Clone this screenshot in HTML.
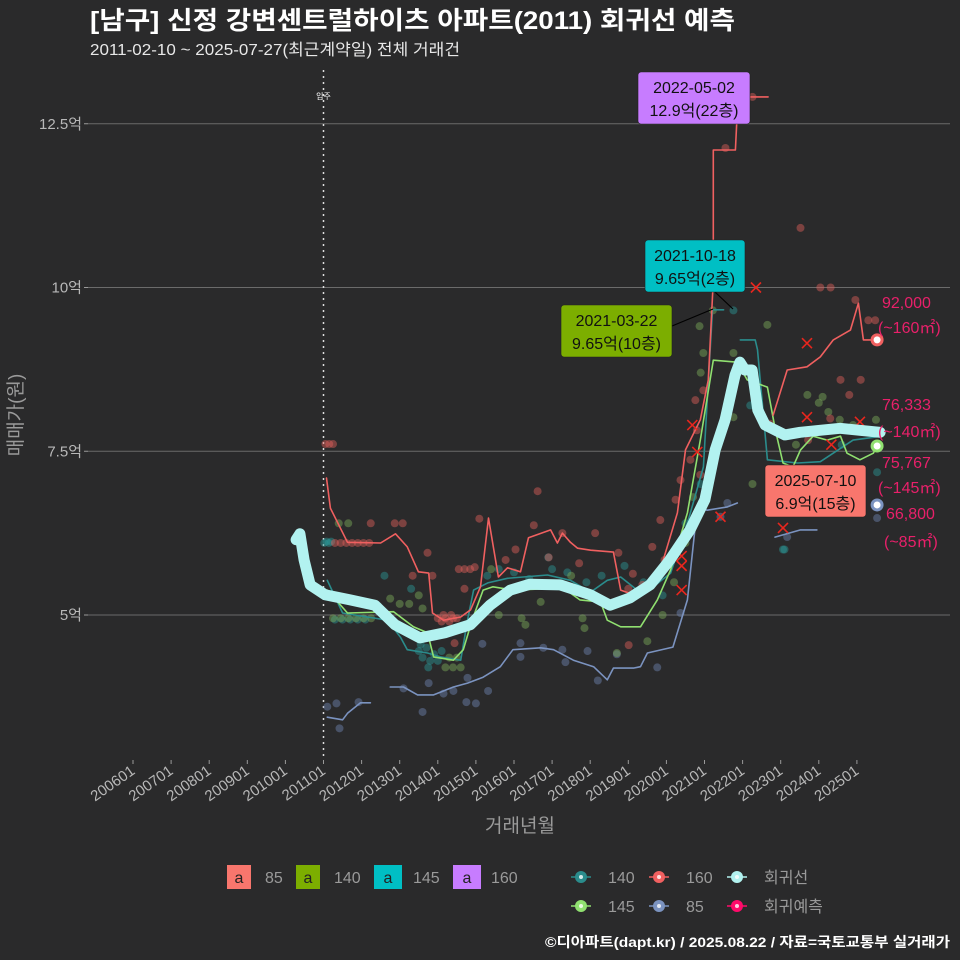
<!DOCTYPE html>
<html><head><meta charset="utf-8">
<style>
html,body{margin:0;padding:0;background:#2a2a2b;}
svg{display:block;font-family:"Liberation Sans","Noto Sans CJK KR",sans-serif;}
</style></head>
<body>
<svg id="chart" width="960" height="960" viewBox="0 0 960 960">
<rect x="0" y="0" width="960" height="960" fill="#2a2a2b"/>
<text x="90" y="29" fill="#ffffff" font-size="25" font-weight="bold" textLength="645" lengthAdjust="spacingAndGlyphs">[남구] 신정 강변센트럴하이츠 아파트(2011) 회귀선 예측</text>
<text x="90" y="55" fill="#e8e8e8" font-size="16" textLength="370" lengthAdjust="spacingAndGlyphs">2011-02-10 ~ 2025-07-27(최근계약일) 전체 거래건</text>
<g id="grid"></g>
<g id="yaxis"></g>
<g id="xaxis"></g>
<g id="marks"></g>
<g id="annot"></g>
<text x="22" y="415" fill="#9a9a9a" font-size="19" text-anchor="middle" transform="rotate(-90 22 415)">매매가(원)</text>
<text x="520" y="832" fill="#9a9a9a" font-size="19" text-anchor="middle">거래년월</text>
<g font-size="16" fill="#9a9a9a">
  <rect x="227" y="865" width="24" height="24" fill="#f8766d"/><text x="239" y="883" text-anchor="middle" fill="#222">a</text><text x="265" y="883" fill="#9a9a9a">85</text>
  <rect x="296" y="865" width="24" height="24" fill="#7cae00"/><text x="308" y="883" text-anchor="middle" fill="#222">a</text><text x="334" y="883" fill="#9a9a9a">140</text>
  <rect x="374" y="865" width="28" height="24" fill="#00bfc4"/><text x="388" y="883" text-anchor="middle" fill="#222">a</text><text x="413" y="883" fill="#9a9a9a">145</text>
  <rect x="453" y="865" width="28" height="24" fill="#c77cff"/><text x="467" y="883" text-anchor="middle" fill="#222">a</text><text x="491" y="883" fill="#9a9a9a">160</text>
</g>
<g id="legend2" font-size="16"></g>
<text x="950" y="947" fill="#ffffff" font-size="14" font-weight="bold" text-anchor="end" textLength="405" lengthAdjust="spacingAndGlyphs">©디아파트(dapt.kr) / 2025.08.22 / 자료=국토교통부 실거래가</text>
</svg>
<script>
// ---- axis data ----
const yTicks = [5, 7.5, 10, 12.5];
const yTickLabels = ['5억', '7.5억', '10억', '12.5억'];
const xTickYears = [2006,2007,2008,2009,2010,2011,2012,2013,2014,2015,2016,2017,2018,2019,2020,2021,2022,2023,2024,2025];
const xTickLabels = ['200601','200701','200801','200901','201001','201101','201201','201301','201401','201501','201601','201701','201801','201901','202001','202101','202201','202301','202401','202501'];
const moveInYear = 2011.0;

// ---- regression line ----
const regDates = [2010.28,2010.38,2010.49,2010.65,2011.04,2011.70,2012.35,2012.88,2013.53,2014.19,2014.85,2015.37,2015.90,2016.42,2017.21,2018.0,2018.52,2019.04,2019.57,2020.09,2020.62,2021.01,2021.28,2021.54,2021.80,2021.93,2022.06,2022.25,2022.40,2022.59,2023.11,2023.51,2024.03,2024.56,2025.08,2025.61];
const regValues = [6.15,6.24,5.84,5.46,5.31,5.23,5.15,4.85,4.65,4.73,4.85,5.15,5.38,5.47,5.46,5.31,5.15,5.26,5.46,5.84,6.30,6.76,7.52,7.98,8.66,8.86,8.74,8.74,8.13,7.90,7.75,7.79,7.82,7.85,7.82,7.79];

// ---- series lines (null = gap) ----
const s160Dates = [2011.08,2011.18,2011.63,2012.50,2012.89,2013.20,2013.49,2013.76,2013.86,2014.15,2014.60,2014.86,2015.12,2015.33,2015.59,2015.83,2016.17,2016.38,2016.96,2017.14,2017.27,2017.48,2017.67,2018.01,2018.61,2018.80,2019.14,2019.45,2019.84,2020.29,2020.50,2020.89,2021.10,2021.23,2021.23,2021.81,2021.88,2022.67,null,2022.80,2023.17,2023.69,2024.04,2024.38,2024.83,2025.04,2025.17,2025.53];
const s160Values = [7.09,6.63,6.11,6.10,6.24,6.04,5.66,5.64,5.03,4.92,4.97,5.08,5.43,6.48,5.58,5.72,5.66,6.18,6.30,6.10,6.25,6.11,6.02,5.99,5.96,5.38,5.31,5.38,5.69,6.56,7.52,7.98,8.59,10.11,12.10,12.10,12.91,12.91,null,8.05,8.74,8.79,8.94,9.20,9.35,9.76,9.20,9.20];
const s140Dates = [2011.10,2011.50,2012.68,2013.02,2013.20,2013.73,2014.07,2014.60,2014.78,2014.94,2015.31,2015.83,2016.88,2017.48,2018.01,2018.45,2018.80,2019.32,2019.66,2020.11,2020.55,2020.97,2021.21,2021.50,null,2021.94,2022.33,2022.39,2022.65,2023.44,2024.04,2024.90,2025.53];
const s140Values = [5.53,5.03,4.92,4.66,4.47,4.42,4.36,4.31,4.92,5.38,5.49,5.56,5.61,5.53,5.35,5.53,5.58,5.34,5.43,5.64,6.40,7.26,9.66,9.66,null,9.20,9.20,9.05,7.37,7.32,7.34,7.67,7.72];
const s145Dates = [2011.10,2011.63,2012.84,2013.36,2013.73,2013.89,2014.41,2014.67,2014.90,2015.19,2015.45,2015.97,2017.30,2017.73,2018.27,2018.45,2018.80,2019.32,2019.76,2020.11,2020.55,2020.89,2021.23,2021.86,2022.12,2022.65,2022.86,2023.06,2023.32,2023.52,2023.85,2024.22,2024.57,2024.74,2025.08,2025.43,2025.53];
const s145Values = [5.38,5.03,5.05,4.82,4.73,4.36,4.31,4.47,4.92,5.38,5.43,5.38,5.41,5.23,5.20,4.92,4.82,4.82,5.23,5.69,6.56,7.67,8.89,8.86,8.59,8.48,7.82,7.32,7.26,7.52,7.73,7.67,7.73,7.47,7.37,7.47,7.58];
const s85Dates = [2011.10,2011.50,2011.63,2011.97,2012.23,null,2012.75,2013.10,2013.47,2013.89,2014.41,2014.78,2015.19,2015.64,2015.97,2016.70,2017.04,2017.56,2018.09,2018.45,2018.61,2019.14,2019.32,2019.50,2020.17,2020.55,2020.81,2021.07,2021.60,2021.86,null,2022.85,2023.52,2023.95];
const s85Values = [3.44,3.40,3.50,3.66,3.66,null,3.90,3.90,3.78,3.78,3.90,3.96,4.05,4.21,4.47,4.50,4.47,4.31,4.21,4.01,4.19,4.19,4.21,4.42,4.51,5.23,6.65,6.60,6.65,6.71,null,6.19,6.30,6.30];

// ---- scatter (date, value) ----
const pts160 = [[2011.05,7.61],[2011.15,7.61],[2011.25,7.61],[2011.3,6.1],[2011.45,6.1],[2011.6,6.1],[2011.75,6.1],[2011.9,6.1],[2012.05,6.1],[2012.2,6.1],[2012.24,6.40],[2012.87,6.40],[2013.08,6.40],[2013.73,5.95],[2013.34,5.60],[2013.86,5.60],[2015.09,6.47],[2016.62,6.89],[2016.52,6.37],[2016.04,6.00],[2017.27,6.25],[2018.13,6.25],[2017.71,5.79],[2019.12,5.63],[2019.01,4.54],[2018.74,5.95],[2016.91,5.88],[2015.78,5.84],[2014.70,5.40],[2014.97,5.73],[2014.44,4.57],[2014.0,4.95],[2014.1,4.9],[2014.2,4.95],[2014.3,4.9],[2014.4,4.95],[2014.5,4.95],[2014.15,5.0],[2014.35,5.0],[2014.55,5.7],[2014.7,5.7],[2014.85,5.7],[2021.55,12.13],[2022.26,12.91],[2023.52,10.91],[2024.04,10.0],[2024.31,10.0],[2024.96,9.81],[2025.3,9.5],[2025.48,9.5],[2025.1,8.59],[2024.57,8.59],[2024.8,8.36],[2024.3,8.0],[2023.72,7.67],[2022.72,7.92],[2020.8,7.82],[2020.63,7.37],[2020.37,7.06],[2020.24,6.76],[2020.89,7.14],[2020.76,8.28],[2020.97,8.43],[2019.63,6.04],[2019.84,6.45],[2019.95,5.84],[2019.37,5.46],[2019.0,5.4]];
const pts140 = [[2011.02,6.1],[2011.08,6.12],[2011.14,6.1],[2011.2,6.12],[2011.3,4.93],[2011.5,4.93],[2011.7,4.93],[2011.9,4.93],[2012.1,4.93],[2013.5,4.45],[2013.6,4.35],[2013.7,4.5],[2013.8,4.3],[2013.9,4.4],[2014.0,4.3],[2013.55,4.55],[2013.75,4.2],[2014.1,4.45],[2015.3,5.6],[2015.6,5.7],[2016.0,5.65],[2016.4,5.55],[2016.9,5.88],[2017.0,5.7],[2017.4,5.65],[2017.9,5.5],[2018.3,5.6],[2018.9,5.75],[2019.4,5.5],[2019.9,5.3],[2020.2,5.9],[2020.5,6.4],[2020.9,7.0],[2021.76,9.65],[2022.2,8.2],[2023.06,6.0],[2023.1,6.0],[2024.6,7.6],[2025.53,7.18],[2012.6,5.6],[2013.3,5.4]];
const pts145 = [[2011.4,6.4],[2011.65,6.4],[2011.25,4.95],[2011.45,4.95],[2011.65,4.95],[2011.85,4.95],[2012.05,4.95],[2012.25,4.95],[2012.75,5.25],[2013.0,5.17],[2013.25,5.17],[2013.5,5.3],[2013.6,5.1],[2014.2,4.2],[2014.3,4.35],[2014.4,4.2],[2014.5,4.35],[2014.6,4.2],[2016.2,4.95],[2016.3,4.85],[2015.6,5.0],[2016.7,5.2],[2017.8,4.95],[2017.85,4.8],[2018.7,4.42],[2015.4,5.7],[2016.0,5.4],[2017.5,5.6],[2019.5,4.6],[2019.9,5.0],[2020.2,5.5],[2020.5,6.1],[2020.7,6.8],[2021.22,9.65],[2020.87,9.41],[2020.97,9.0],[2020.9,8.7],[2021.76,9.0],[2021.76,8.02],[2022.26,7.0],[2022.65,9.43],[2023.7,8.36],[2024.0,8.24],[2024.25,8.1],[2024.55,7.98],[2024.1,8.33],[2025.5,7.98],[2023.4,7.6],[2024.9,7.9]];
const pts85 = [[2011.1,3.6],[2011.34,3.65],[2011.42,3.27],[2011.92,3.67],[2013.1,3.88],[2013.6,3.52],[2013.76,3.96],[2014.15,3.80],[2014.41,3.84],[2014.75,3.67],[2015.0,3.65],[2014.78,4.04],[2015.17,4.56],[2015.32,3.84],[2016.17,4.36],[2016.17,4.57],[2016.77,4.5],[2017.27,4.47],[2017.35,4.28],[2017.93,4.45],[2018.2,4.0],[2018.7,4.4],[2019.76,4.2],[2020.37,5.03],[2021.6,6.71],[2021.42,6.5],[2023.17,6.19],[2025.53,6.48]];
const predXs = [[2022.35,10.0],[2023.69,9.15],[2023.69,8.02],[2024.33,7.6],[2025.08,7.95],[2023.06,6.33],[2021.42,6.5],[2020.68,7.9],[2020.81,7.49],[2020.4,5.9],[2020.4,5.75],[2020.4,5.38]];

// ---- predicted endpoints ----
const endDate = 2025.53;
const endValues = [9.20, 7.82, 7.58, 6.68];
const endNames = ['160', '140', '145', '85'];

// ---- axis functions ----
const X0 = 133, XPY = 38.1, Y0 = 615, YPU = 65.5;
const PL = 88, PR = 950, PT = 65, PB = 760;
function xs(t){ return X0 + (t - 2006) * XPY; }
function ys(v){ return Y0 - (v - 5) * YPU; }
const NS = 'http://www.w3.org/2000/svg';
function mk(parent, tag, attrs){ const e = document.createElementNS(NS, tag); for (const k in attrs) e.setAttribute(k, attrs[k]); parent.appendChild(e); return e; }

const grid = document.getElementById('grid');
const yaxis = document.getElementById('yaxis');
yTicks.forEach((v, i) => {
  const l = mk(grid, 'line', {x1: PL, x2: PR, y1: ys(v), y2: ys(v), stroke: '#6b6b6b', 'stroke-width': 1});
  
  
  const tk = mk(yaxis, 'line', {x1: PL - 4, x2: PL, y1: ys(v), y2: ys(v), stroke: '#9a9a9a'});
  
  
  const t = mk(yaxis, 'text', {x: PL - 6, y: ys(v) + 5, fill: '#b8b8b8', 'font-size': 15, 'text-anchor': 'end'});
  t.textContent = yTickLabels[i];
  
  
});
const xaxis = document.getElementById('xaxis');
xTickYears.forEach((yr, i) => {
  const x = xs(yr);
  const tk = mk(xaxis, 'line', {x1: x, x2: x, y1: PB, y2: PB + 4, stroke: '#9a9a9a'});
  
  
  const t = mk(xaxis, 'text', {x: x + 3, y: PB + 13, fill: '#b8b8b8', 'font-size': 15, 'text-anchor': 'end', transform: `rotate(-35 ${x + 3} ${PB + 13})`});
  t.textContent = xTickLabels[i];
  
  
});

const marks = document.getElementById('marks');
const mv = mk(marks, 'line', {x1: xs(moveInYear), x2: xs(moveInYear), y1: PT + 5, y2: PB, stroke: '#dddddd', 'stroke-width': 1.5, 'stroke-dasharray': '2,4'});


const mvt = mk(marks, 'text', {x: xs(moveInYear), y: 99, fill: '#ffffff', 'font-size': 8, 'text-anchor': 'middle'});
mvt.textContent = '입주';



function scatter(pts, color, name){
  pts.forEach(p => {
    const c = mk(marks, 'circle', {cx: xs(p[0]), cy: ys(p[1]), r: 4, fill: color, 'fill-opacity': 0.45});
    
    
  });
}
scatter(pts85, '#6f86b4', 'point-85');
scatter(pts140, '#2a9a98', 'point-140');
scatter(pts145, '#7cae5a', 'point-145');
scatter(pts160, '#e0605a', 'point-160');

function pathD(dates, vals){
  let d = '', pen = false;
  for (let i = 0; i < dates.length; i++){
    if (dates[i] === null){ pen = false; continue; }
    d += (pen ? 'L' : 'M') + xs(dates[i]).toFixed(1) + ',' + ys(vals[i]).toFixed(1);
    pen = true;
  }
  return d;
}
function line(dates, vals, color, w, name){
  const p = mk(marks, 'path', {d: pathD(dates, vals), fill: 'none', stroke: color, 'stroke-width': w, 'stroke-linejoin': 'round', 'stroke-linecap': 'round'});
  
  
}
line(s85Dates, s85Values, '#7b93c0', 1.6, 'line-85');
line(s140Dates, s140Values, '#2a8c8c', 1.6, 'line-140');
line(s145Dates, s145Values, '#90e070', 1.6, 'line-145');
line(s160Dates, s160Values, '#f06060', 1.6, 'line-160');

predXs.forEach(p => {
  const x = xs(p[0]), y = ys(p[1]);
  const g = mk(marks, 'path', {d: `M${x-5},${y-5}L${x+5},${y+5}M${x+5},${y-5}L${x-5},${y+5}`, stroke: '#e8261e', 'stroke-width': 1.6});
  
  
});

line(regDates, regValues, '#b2f2f0', 11, 'regression-line');

const endColors = ['#f06060', '#e81e63', '#90e070', '#7b93c0'];
endValues.forEach((v, i) => {
  if (i === 1) return;
  const c = mk(marks, 'circle', {cx: xs(endDate), cy: ys(v), r: 5, fill: '#ffffff', stroke: endColors[i], 'stroke-width': 3});
  
  
});

// end labels
const endLabels = [['92,000', 882, 308], ['(~160㎡)', 878, 333], ['76,333', 882, 410], ['(~140㎡)', 878, 437], ['75,767', 882, 468], ['(~145㎡)', 878, 493], ['66,800', 886, 519], ['(~85㎡)', 884, 547]];
const annot = document.getElementById('annot');
endLabels.forEach(l => {
  const t = mk(annot, 'text', {x: l[1], y: l[2], fill: '#e8206a', 'font-size': 16});
  t.textContent = l[0];
  
  
});

// annotation boxes
const boxes = [
  {x: 638, y: 72, w: 112, h: 52, fill: '#c77cff', l1: '2022-05-02', l2: '12.9억(22층)', name: 'callout-max', lead: null},
  {x: 645, y: 240, w: 100, h: 52, fill: '#00bfc4', l1: '2021-10-18', l2: '9.65억(2층)', name: 'callout-145', lead: [715, 292, 733, 309]},
  {x: 561, y: 305, w: 111, h: 52, fill: '#7cae00', l1: '2021-03-22', l2: '9.65억(10층)', name: 'callout-140', lead: [672, 326, 713, 309]},
  {x: 765, y: 465, w: 101, h: 52, fill: '#f8766d', l1: '2025-07-10', l2: '6.9억(15층)', name: 'callout-latest', lead: null}
];
boxes.forEach(b => {
  if (b.lead){
    const ln = mk(annot, 'line', {x1: b.lead[0], y1: b.lead[1], x2: b.lead[2], y2: b.lead[3], stroke: '#000', 'stroke-width': 1.2});
    
    
  }
  const r = mk(annot, 'rect', {x: b.x, y: b.y, width: b.w, height: b.h, rx: 3, fill: b.fill, stroke: '#222', 'stroke-width': 0.6});
  
  
  const t1 = mk(annot, 'text', {x: b.x + b.w / 2, y: b.y + 21, fill: '#111', 'font-size': 16, 'text-anchor': 'middle'});
  t1.textContent = b.l1;
  
  
  const t2 = mk(annot, 'text', {x: b.x + b.w / 2, y: b.y + 44, fill: '#111', 'font-size': 16, 'text-anchor': 'middle'});
  t2.textContent = b.l2;
  
  
});

// series legend
const leg = document.getElementById('legend2');
const legItems = [['140', '#2a8c8c', 581, 877], ['160', '#f06060', 659, 877], ['회귀선', '#b2f2f0', 737, 877], ['145', '#90e070', 581, 906], ['85', '#7b93c0', 659, 906], ['회귀예측', '#ff0a6a', 737, 906]];
legItems.forEach(it => {
  const g = mk(leg, 'g', {});
  
  
  mk(g, 'line', {x1: it[2] - 10, x2: it[2] + 10, y1: it[3], y2: it[3], stroke: it[1], 'stroke-width': 1.5});
  mk(g, 'circle', {cx: it[2], cy: it[3], r: 6, fill: it[1]});
  mk(g, 'circle', {cx: it[2], cy: it[3], r: 2, fill: '#ffffff', 'fill-opacity': 0.8});
  const t = mk(g, 'text', {x: it[2] + 27, y: it[3] + 6, fill: '#9a9a9a', 'font-size': 16});
  t.textContent = it[0];
});
</script>
</body></html>
